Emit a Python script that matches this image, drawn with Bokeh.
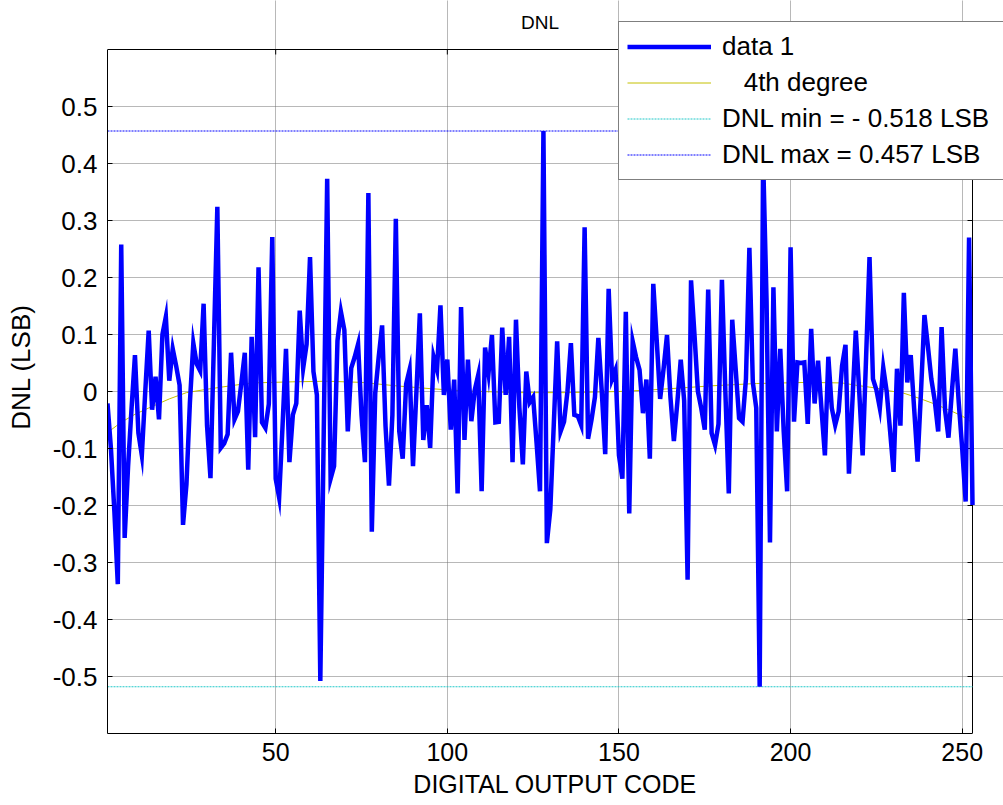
from bokeh.plotting import figure
from bokeh.models import FixedTicker, Legend, LegendItem, Range1d, Label
from bokeh.embed import file_html
from bokeh.resources import INLINE

# ---- data ----
codes = list(range(1, 254))
dnl = [
    -0.021, -0.10, -0.21, -0.338, 0.258, -0.257, -0.131, -0.03, 0.064, -0.073,
    -0.112, 0.00, 0.107, -0.032, 0.026, -0.049, 0.10, 0.131, 0.019, 0.075,
    0.045, 0.011, -0.234, -0.163, -0.02, 0.085, 0.048, 0.036, 0.154, -0.06,
    -0.152, 0.086, 0.324, -0.099, -0.091, -0.075, 0.068, -0.049, -0.035, 0.015,
    0.068, -0.137, 0.096, -0.08, 0.218, -0.054, -0.064, -0.022, 0.271, -0.153,
    -0.186, -0.06, 0.075, -0.124, -0.041, -0.021, 0.142, 0.041, 0.083, 0.236,
    0.035, -0.006, -0.508, -0.07, 0.373, -0.153, -0.131, 0.089, 0.14, 0.108,
    -0.07, 0.041, 0.06, 0.083, -0.041, -0.124, 0.348, -0.246, -0.003, 0.06,
    0.116, -0.061, -0.165, -0.041, 0.303, -0.07, -0.118, 0.013, 0.038, -0.131,
    0.0, 0.137, -0.085, -0.024, -0.099, 0.061, 0.038, 0.151, -0.006, 0.056,
    -0.067, 0.021, -0.179, 0.148, -0.085, 0.056, -0.052, 0.003, 0.029, -0.175,
    0.077, 0.032, 0.099, -0.054, -0.053, 0.112, -0.006, 0.096, -0.124, 0.126,
    -0.029, -0.128, 0.035, -0.019, -0.01, -0.09, -0.175, 0.457, -0.266, -0.207,
    -0.06, 0.088, -0.07, -0.053, 0.0, 0.085, -0.041, -0.043, -0.059, 0.288,
    -0.083, -0.05, -0.01, 0.094, 0.0, -0.11, 0.18, 0.022, 0.038, -0.112,
    -0.153, 0.14, -0.214, 0.088, 0.06, 0.038, -0.038, 0.021, -0.118, 0.189,
    0.09, -0.013, 0.04, 0.099, -0.01, -0.087, -0.02, 0.056, -0.016, -0.33,
    0.195, 0.1, 0.0, -0.03, -0.067, 0.179, -0.073, -0.094, -0.057, 0.196,
    0.0, -0.179, 0.126, 0.04, -0.047, -0.053, 0.022, 0.252, 0.016, -0.029,
    -0.518, 0.41, 0.16, -0.265, 0.183, -0.07, 0.075, -0.07, -0.175, 0.253,
    -0.053, 0.051, 0.05, 0.051, -0.057, 0.11, -0.021, 0.054, -0.03, -0.112,
    0.061, -0.029, -0.059, -0.035, 0.045, 0.082, -0.144, -0.02, 0.107, 0.0,
    -0.112, 0.06, 0.236, 0.022, 0.003, -0.029, 0.042, 0.0, -0.07, -0.141,
    0.04, -0.06, 0.173, 0.016, 0.064, -0.03, -0.123, 0.0, 0.134, 0.08,
    0.022, -0.016, -0.07, 0.113, -0.032, -0.081, 0.0, 0.075, -0.02, -0.10,
    -0.193, 0.27, -0.199,
]

# 4th degree fit curve
fit_x = [1, 5, 9, 13, 19, 24, 30, 38, 43, 55, 65, 75, 85, 95, 105, 120, 135,
         150, 160, 170, 177, 190, 205, 215, 219, 225, 229, 233, 238, 242, 246, 250, 253]
fit_y = [-0.072, -0.054, -0.040, -0.029, -0.013, -0.002, 0.004, 0.011, 0.015, 0.017,
         0.018, 0.016, 0.010, 0.005, 0.001, -0.002, -0.002, 0.0, 0.003, 0.007, 0.010,
         0.014, 0.016, 0.015, 0.011, 0.006, 0.001, -0.003, -0.013, -0.022, -0.032,
         -0.043, -0.055]

dnl_min = -0.518
dnl_max = 0.457

x_lim = [1, 253]
y_lim = [-0.6, 0.6]
xticks = [50, 100, 150, 200, 250]
yticks = [-0.5, -0.4, -0.3, -0.2, -0.1, 0.0, 0.1, 0.2, 0.3, 0.4, 0.5]
ytick_labels = ["-0.5", "-0.4", "-0.3", "-0.2", "-0.1", "0", "0.1", "0.2", "0.3", "0.4", "0.5"]

title_text = "DNL"
xlabel = "DIGITAL OUTPUT CODE"
ylabel = "DNL (LSB)"
labels = ["data 1", "\u00a0\u00a0\u00a04th degree", "DNL min = - 0.518 LSB", "DNL max = 0.457 LSB"]

FONT = "Liberation Sans"

# ---- geometry: the axes box sits inside a larger frame so the legend may overhang it ----
W, H = 1003, 805
BOX_L, BOX_R, BOX_T, BOX_B = 107, 972, 49, 733       # pixel edges of the axes box
px_x = (BOX_R - BOX_L) / (x_lim[1] - x_lim[0])
px_y = (BOX_B - BOX_T) / (y_lim[1] - y_lim[0])
x_end = x_lim[1] + (W - BOX_R) / px_x
y_end = y_lim[1] + BOX_T / px_y

p = figure(width=W, height=H, x_range=Range1d(x_lim[0], x_end), y_range=Range1d(y_lim[0], y_end),
           output_backend="svg", toolbar_location=None,
           min_border_left=BOX_L, min_border_right=0, min_border_top=0, min_border_bottom=H - BOX_B)
p.background_fill_color = "white"
p.border_fill_color = "white"
p.outline_line_color = None

# axes
for ax in (p.xaxis[0], p.yaxis[0]):
    ax.major_tick_in = 5
    ax.major_tick_out = 0
    ax.minor_tick_in = 0
    ax.minor_tick_out = 0
    ax.minor_tick_line_color = None
    ax.axis_line_color = "black"
    ax.major_tick_line_color = "black"
    ax.major_label_text_font = FONT
    ax.major_label_text_color = "black"
    ax.axis_label_text_font = FONT
    ax.axis_label_text_font_style = "normal"
    ax.axis_label_text_color = "black"

p.xaxis.bounds = tuple(x_lim)
p.xaxis.ticker = FixedTicker(ticks=xticks)
p.xaxis.major_label_text_font_size = "25px"
p.xaxis.major_label_standoff = 9
p.xaxis.axis_label = xlabel
p.xaxis.axis_label_text_font_size = "25px"
p.xaxis.axis_label_standoff = 6

p.yaxis.bounds = tuple(y_lim)
p.yaxis.ticker = FixedTicker(ticks=yticks)
p.yaxis.major_label_overrides = {t: l for t, l in zip(yticks, ytick_labels)}
p.yaxis.major_label_text_font_size = "26px"
p.yaxis.major_label_standoff = 10
p.yaxis.axis_label = ylabel
p.yaxis.axis_label_text_font_size = "26px"
p.yaxis.axis_label_standoff = 14

# grid (dotted, limited to the axes box)
p.xgrid.ticker = FixedTicker(ticks=xticks)
p.ygrid.ticker = FixedTicker(ticks=yticks)
p.xgrid.bounds = tuple(y_lim)
p.ygrid.bounds = tuple(x_lim)
for g in (p.xgrid[0], p.ygrid[0]):
    g.grid_line_color = "#707070"
    g.grid_line_dash = "1 1"
    g.grid_line_width = 1

# box top / right edges with inward ticks
p.line(x_lim, [y_lim[1], y_lim[1]], line_color="black", line_width=1)
p.line([x_lim[1], x_lim[1]], y_lim, line_color="black", line_width=1)
tick_dy = 5 / px_y
tick_dx = 5 / px_x
p.segment(x0=xticks, y0=[y_lim[1]] * len(xticks), x1=xticks, y1=[y_lim[1] - tick_dy] * len(xticks),
          line_color="black", line_width=1)
p.segment(x0=[x_lim[1]] * len(yticks), y0=yticks, x1=[x_lim[1] - tick_dx] * len(yticks), y1=yticks,
          line_color="black", line_width=1)

# glyphs
r_max = p.line(x_lim, [dnl_max, dnl_max], line_color="#0000ff", line_width=1, line_dash="2 1")
r_min = p.line(x_lim, [dnl_min, dnl_min], line_color="#20c8c8", line_width=1, line_dash="2 1")
r_fit = p.line(fit_x, fit_y, line_color="#c4c000", line_width=1)
r_data = p.line(codes, dnl, line_color="#0000ff", line_width=4.5, line_join="miter")

# title
p.add_layout(Label(x=(x_lim[0] + x_lim[1]) / 2, y=y_lim[1] + 27 / px_y, text=title_text,
                   text_font=FONT, text_font_size="19px", text_color="black",
                   text_align="center", text_baseline="middle"))

legend = Legend(items=[LegendItem(label=labels[0], renderers=[r_data]),
                       LegendItem(label=labels[1], renderers=[r_fit]),
                       LegendItem(label=labels[2], renderers=[r_min]),
                       LegendItem(label=labels[3], renderers=[r_max])],
                location=(618 - BOX_L, BOX_B - 180))
legend.label_text_font = FONT
legend.label_text_font_size = "26px"
legend.label_text_color = "black"
legend.glyph_width = 84
legend.glyph_height = 33
legend.label_height = 33
legend.label_width = 300
legend.label_standoff = 11
legend.spacing = 3
legend.padding = 8
legend.margin = 0
legend.border_line_color = "black"
legend.border_line_width = 1
legend.background_fill_color = "white"
legend.background_fill_alpha = 1.0
p.add_layout(legend, "center")

open("out.html", "w").write(file_html(p, INLINE))
